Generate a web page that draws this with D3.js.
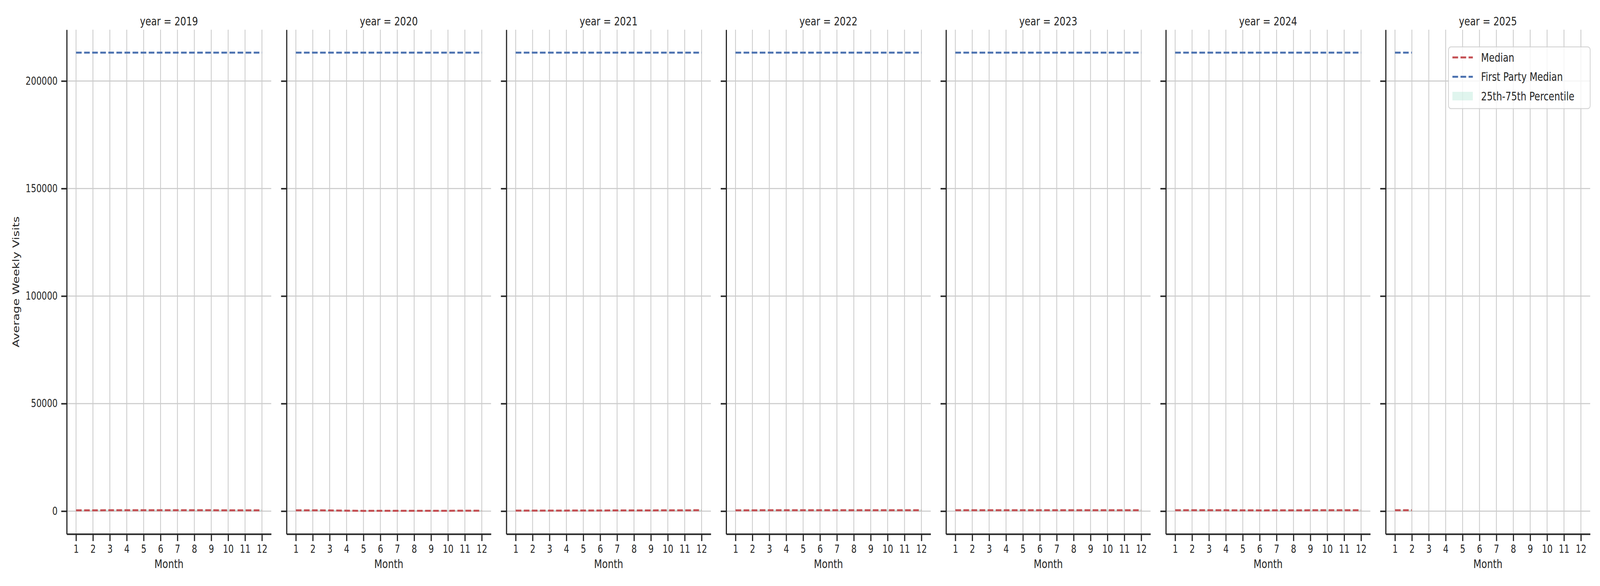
<!DOCTYPE html>
<html>
<head>
<meta charset="utf-8">
<script src="https://cdn.jsdelivr.net/npm/d3@7"></script>
<style>
  html, body { margin: 0; padding: 0; background: #ffffff; overflow: hidden; }
  svg { display: block; width: 100vw; height: 100vh; }
  text { font-family: "DejaVu Sans", sans-serif; fill: #262626; }
</style>
</head>
<body>
<svg id="canvas" viewBox="0 0 5250 1500" preserveAspectRatio="none"></svg>
<script>
let years = [2019, 2020, 2021, 2022, 2023, 2024, 2025];
let months = [1, 2, 3, 4, 5, 6, 7, 8, 9, 10, 11, 12];
let yTicks = [0, 50000, 100000, 150000, 200000];

// one row per year, one value per month
let medianValues = [
  [380, 380, 420, 440, 440, 440, 430, 410, 400, 390, 380, 380],
  [380, 380, 330, 200, 120, 150, 160, 170, 170, 170, 180, 180],
  [260, 260, 250, 260, 280, 300, 320, 340, 350, 360, 380, 420],
  [380, 380, 430, 440, 400, 400, 400, 400, 400, 410, 420, 430],
  [400, 410, 410, 410, 410, 400, 400, 400, 400, 400, 410, 410],
  [400, 400, 400, 400, 380, 350, 360, 380, 400, 410, 420, 440],
  [400, 400]
];
let q25Values = [
  [60, 60, 80, 90, 90, 90, 80, 70, 70, 60, 60, 60],
  [60, 60, 50, 20, 0, 10, 20, 20, 20, 20, 30, 30],
  [30, 30, 30, 30, 40, 40, 50, 50, 60, 60, 60, 70],
  [60, 60, 70, 70, 60, 60, 60, 60, 60, 70, 70, 70],
  [60, 70, 70, 70, 70, 60, 60, 60, 60, 60, 70, 70],
  [60, 60, 60, 60, 60, 50, 50, 60, 60, 70, 70, 70],
  [60, 60]
];
let q75Values = [
  [720, 720, 770, 800, 800, 790, 780, 760, 740, 730, 720, 720],
  [720, 710, 650, 480, 380, 420, 440, 450, 450, 460, 470, 480],
  [560, 560, 550, 560, 590, 610, 640, 660, 680, 690, 720, 760],
  [720, 720, 780, 790, 740, 740, 740, 740, 740, 750, 760, 770],
  [740, 750, 750, 750, 750, 740, 740, 740, 740, 740, 750, 750],
  [740, 740, 740, 740, 710, 680, 690, 710, 740, 750, 760, 780],
  [740, 740]
];
let firstPartyValues = [
  [213190, 213190, 213190, 213190, 213190, 213190, 213190, 213190, 213190, 213190, 213190, 213190],
  [213190, 213190, 213190, 213190, 213190, 213190, 213190, 213190, 213190, 213190, 213190, 213190],
  [213190, 213190, 213190, 213190, 213190, 213190, 213190, 213190, 213190, 213190, 213190, 213190],
  [213190, 213190, 213190, 213190, 213190, 213190, 213190, 213190, 213190, 213190, 213190, 213190],
  [213190, 213190, 213190, 213190, 213190, 213190, 213190, 213190, 213190, 213190, 213190, 213190],
  [213190, 213190, 213190, 213190, 213190, 213190, 213190, 213190, 213190, 213190, 213190, 213190],
  [213190, 213190]
];

let canvas = d3.select("#canvas");

let ink = "#262626";
let gridColor = "#cccccc";
let red = "#c44e52";
let blue = "#4c72b0";
let bandColor = "#66cdaa";

let plotTop = 76, plotBottom = 1367;
let firstLeft = 219, panelStep = 721.3, panelWidth = 671;

// shared y scale with matplotlib-like 5% margins
let allValues = q25Values.flat().concat(q75Values.flat(), medianValues.flat(), firstPartyValues.flat());
let yMin = d3.min(allValues), yMax = d3.max(allValues);
let pad = (yMax - yMin) * 0.05;
let y = d3.scaleLinear().domain([yMin - pad, yMax + pad]).range([plotBottom, plotTop]);

let styleAxis = (g) => {
  g.select(".domain").attr("stroke", ink).attr("stroke-width", 3.8);
  g.selectAll(".tick line").attr("stroke", ink).attr("stroke-width", 3.8);
  g.selectAll(".tick text")
    .attr("fill", ink)
    .style("font-family", "DejaVu Sans")
    .style("font-size", "27.5px");
};

years.forEach((year, i) => {
  let left = firstLeft + i * panelStep;
  let x = d3.scaleLinear().domain([0.45, 12.55]).range([left, left + panelWidth]);
  let panel = canvas.append("g");

  // grid
  panel.selectAll(".vgrid")
    .data(months)
    .enter()
    .append("line")
    .attr("x1", (m) => x(m))
    .attr("x2", (m) => x(m))
    .attr("y1", plotTop)
    .attr("y2", plotBottom)
    .attr("stroke", gridColor)
    .attr("stroke-width", 2.7);

  panel.selectAll(".hgrid")
    .data(yTicks)
    .enter()
    .append("line")
    .attr("x1", left)
    .attr("x2", left + panelWidth)
    .attr("y1", (v) => y(v))
    .attr("y2", (v) => y(v))
    .attr("stroke", gridColor)
    .attr("stroke-width", 2.7);

  let n = medianValues[i].length;
  let rows = d3.range(n).map((k) => ({
    month: months[k],
    median: medianValues[i][k],
    q25: q25Values[i][k],
    q75: q75Values[i][k],
    firstParty: firstPartyValues[i][k]
  }));

  let band = d3.area()
    .x((d) => x(d.month))
    .y0((d) => y(d.q25))
    .y1((d) => y(d.q75));

  panel.append("path")
    .datum(rows)
    .attr("d", band)
    .attr("fill", bandColor)
    .attr("fill-opacity", 0.2);

  let medianLine = d3.line().x((d) => x(d.month)).y((d) => y(d.median));
  let firstPartyLine = d3.line().x((d) => x(d.month)).y((d) => y(d.firstParty));

  panel.append("path")
    .datum(rows)
    .attr("d", medianLine)
    .attr("fill", "none")
    .attr("stroke", red)
    .attr("stroke-width", 5)
    .attr("stroke-dasharray", "18.5,8");

  panel.append("path")
    .datum(rows)
    .attr("d", firstPartyLine)
    .attr("fill", "none")
    .attr("stroke", blue)
    .attr("stroke-width", 5)
    .attr("stroke-dasharray", "18.5,8");

  // axes
  let yAxis = d3.axisLeft(y)
    .tickValues(yTicks)
    .tickSize(18)
    .tickSizeOuter(0)
    .tickPadding(12)
    .tickFormat(i === 0 ? d3.format("d") : () => "");

  panel.append("g")
    .attr("transform", "translate(" + left + ",0)")
    .call(yAxis)
    .call(styleAxis);

  let xAxis = d3.axisBottom(x)
    .tickValues(months)
    .tickSize(18)
    .tickSizeOuter(0)
    .tickPadding(10)
    .tickFormat(d3.format("d"));

  panel.append("g")
    .attr("transform", "translate(0," + plotBottom + ")")
    .call(xAxis)
    .call(styleAxis);

  panel.append("text")
    .attr("x", left + panelWidth / 2)
    .attr("y", 65)
    .attr("text-anchor", "middle")
    .style("font-size", "30.5px")
    .text("year = " + year);

  panel.append("text")
    .attr("x", left + panelWidth / 2)
    .attr("y", 1454)
    .attr("text-anchor", "middle")
    .style("font-size", "30.5px")
    .text("Month");
});

canvas.append("text")
  .attr("transform", "translate(63," + (plotTop + plotBottom) / 2 + ") rotate(-90)")
  .attr("text-anchor", "middle")
  .style("font-size", "30.5px")
  .text("Average Weekly Visits");

// legend in the last panel
let lastRight = firstLeft + 6 * panelStep + panelWidth;
let legend = canvas.append("g").attr("transform", "translate(" + (lastRight - 465) + ",120)");

legend.append("rect")
  .attr("width", 465)
  .attr("height", 158)
  .attr("rx", 8)
  .attr("fill", "#ffffff")
  .attr("fill-opacity", 0.8)
  .attr("stroke", "#cccccc")
  .attr("stroke-opacity", 0.8)
  .attr("stroke-width", 2.7);

let legendItems = [
  { label: "Median", color: red, type: "line" },
  { label: "First Party Median", color: blue, type: "line" },
  { label: "25th-75th Percentile", color: bandColor, type: "patch" }
];

legendItems.forEach((item, k) => {
  let cy = 27 + k * 49.5;
  if (item.type === "line") {
    legend.append("line")
      .attr("x1", 13)
      .attr("x2", 80)
      .attr("y1", cy)
      .attr("y2", cy)
      .attr("stroke", item.color)
      .attr("stroke-width", 5)
      .attr("stroke-dasharray", "18.5,8");
  } else {
    legend.append("rect")
      .attr("x", 13)
      .attr("y", cy - 11)
      .attr("width", 67)
      .attr("height", 22)
      .attr("fill", item.color)
      .attr("fill-opacity", 0.2);
  }
  legend.append("text")
    .attr("x", 107)
    .attr("y", cy + 11)
    .style("font-size", "30px")
    .text(item.label);
});
</script>
</body>
</html>
